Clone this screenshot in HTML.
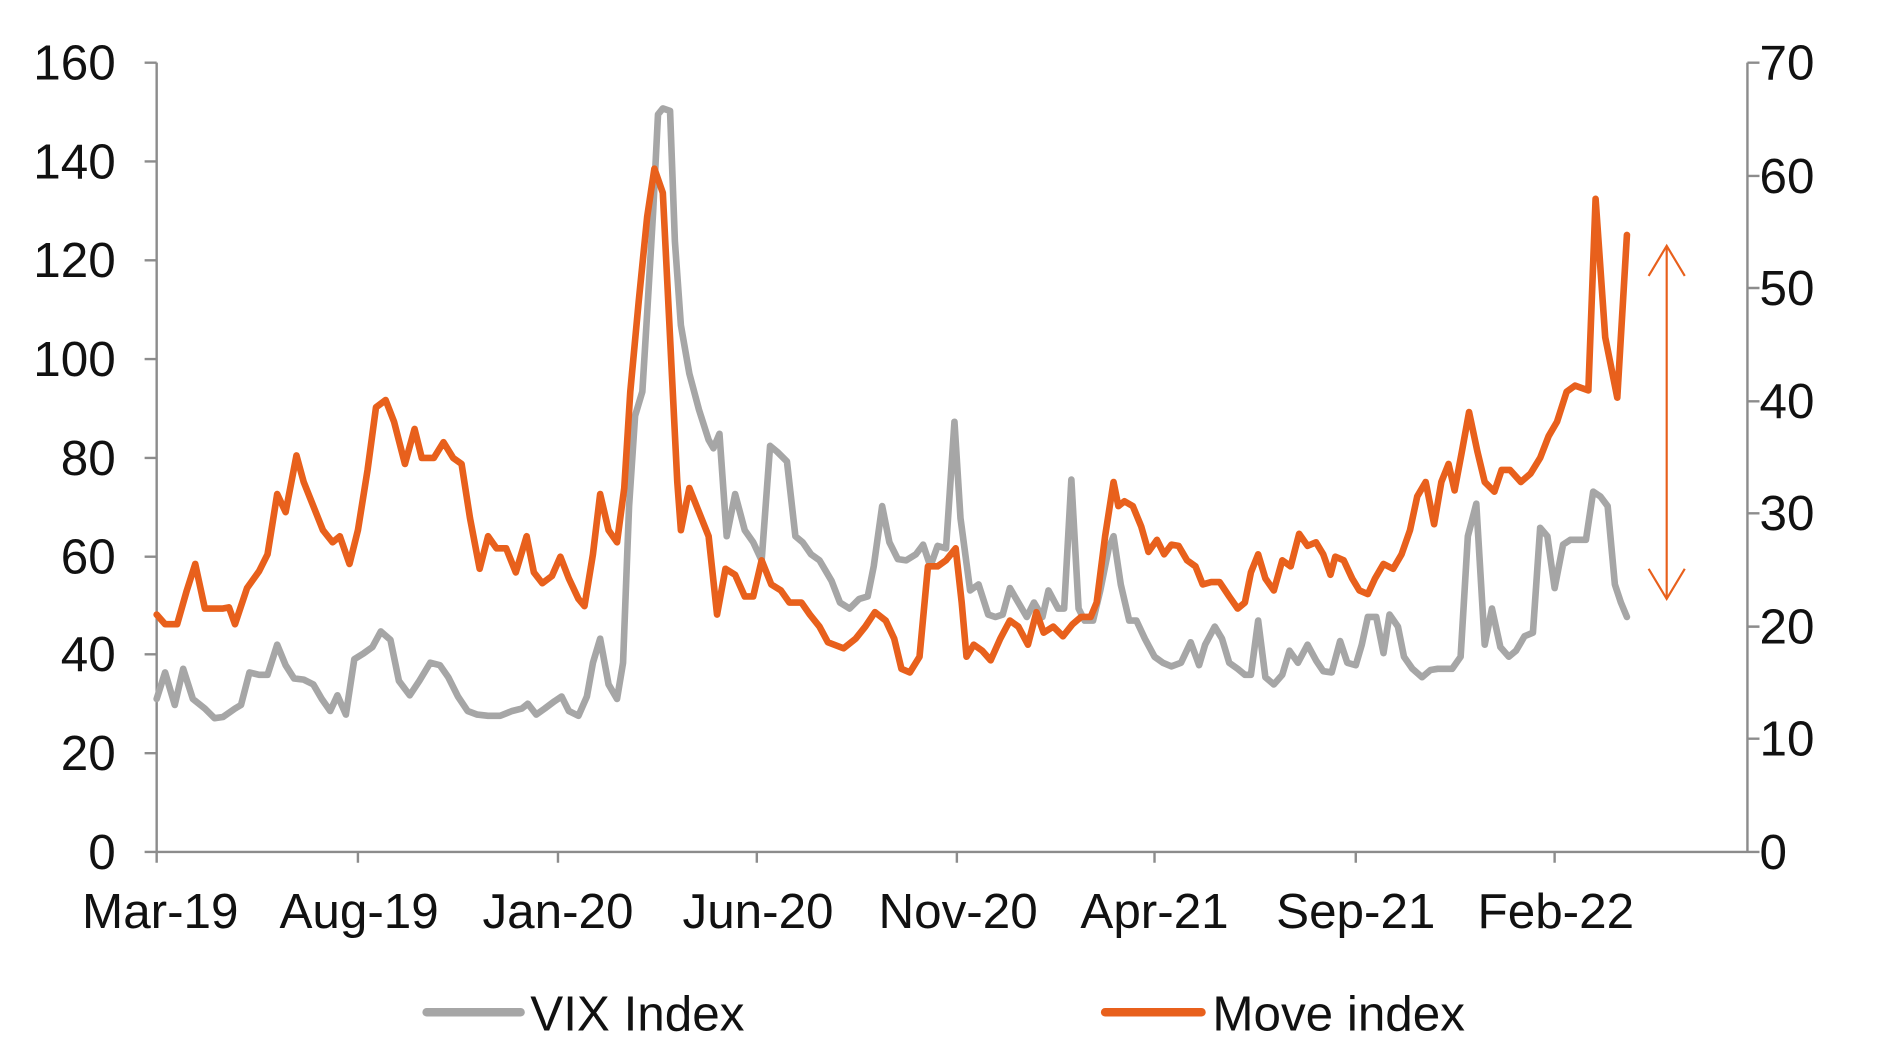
<!DOCTYPE html>
<html><head><meta charset="utf-8"><style>
html,body{margin:0;padding:0;background:#fff;}
svg{display:block;}
text{font-family:"Liberation Sans",Arial,sans-serif;fill:#111;}
</style></head><body>
<svg width="1880" height="1052" viewBox="0 0 1560 873" preserveAspectRatio="none" xmlns="http://www.w3.org/2000/svg">
<g stroke="#8c8c8c" stroke-width="2" fill="none">
<line x1="130" y1="52" x2="130" y2="716"/>
<line x1="120" y1="707" x2="1460" y2="707"/>
<line x1="1450" y1="52" x2="1450" y2="707"/>
<path d="M120 52H130M120 134H130M120 216H130M120 298H130M120 380H130M120 462H130M120 543H130M120 625H130"/>
<path d="M1450 52H1460M1450 146H1460M1450 239H1460M1450 333H1460M1450 426H1460M1450 520H1460M1450 613H1460"/>
<path d="M297 707V716M463 707V716M628 707V716M794 707V716M958 707V716M1125 707V716M1290 707V716"/>
</g>
<g font-size="41" text-anchor="end">
<text x="96" y="66">160</text><text x="96" y="148">140</text><text x="96" y="230">120</text><text x="96" y="312">100</text><text x="96" y="394">80</text><text x="96" y="476">60</text><text x="96" y="557">40</text><text x="96" y="639">20</text><text x="96" y="721">0</text>
</g>
<g font-size="41">
<text x="1460" y="66">70</text><text x="1460" y="160">60</text><text x="1460" y="253">50</text><text x="1460" y="347">40</text><text x="1460" y="440">30</text><text x="1460" y="534">20</text><text x="1460" y="627">10</text><text x="1460" y="721">0</text>
</g>
<g font-size="41" text-anchor="middle">
<text x="133" y="770">Mar-19</text><text x="298" y="770">Aug-19</text><text x="463" y="770">Jan-20</text><text x="629" y="770">Jun-20</text><text x="795" y="770">Nov-20</text><text x="958" y="770">Apr-21</text><text x="1125" y="770">Sep-21</text><text x="1291" y="770">Feb-22</text>
</g>
<polyline fill="none" stroke="#a6a6a6" stroke-width="5.5" stroke-linejoin="round" stroke-linecap="round" points="130,580 137,558 145,585 152,555 160,580 170,588 178,596 185,595 195,588 200,585 207,558 215,560 222,560 230,535 237,552 244,563 252,564 260,568 267,580 274,590 280,577 287,593 294,547 302,542 309,537 316,524 324,531 331,565 340,577 348,565 357,550 365,552 372,562 380,578 388,590 396,593 405,594 415,594 425,590 433,588 438,584 445,593 452,588 460,582 466,578 472,590 480,594 487,578 492,550 498,530 505,568 512,580 517,550 522,420 527,345 533,325 537,260 542,175 546,95 550,90 556,92 560,200 565,270 572,310 580,340 588,365 592,372 597,360 603,445 610,410 618,440 625,450 632,465 639,370 645,375 653,383 660,445 666,450 673,460 680,465 690,482 697,500 705,505 713,497 720,495 725,470 732,420 738,450 745,464 752,465 760,460 766,452 772,470 778,453 785,455 792,350 797,430 805,490 812,485 820,510 826,512 832,510 838,488 845,500 852,512 858,500 865,512 870,490 878,505 883,505 889,398 895,505 900,515 907,515 913,490 920,455 924,445 930,485 937,515 943,515 950,530 958,545 965,550 972,553 980,550 988,533 995,552 1000,535 1008,520 1014,530 1020,550 1027,555 1033,560 1038,560 1044,515 1050,562 1057,568 1064,560 1070,540 1077,550 1085,535 1092,548 1098,557 1105,558 1112,532 1118,550 1125,552 1130,535 1135,512 1142,512 1148,542 1153,510 1160,520 1165,545 1172,555 1180,562 1187,556 1193,555 1200,555 1205,555 1212,545 1218,445 1225,418 1232,535 1238,505 1245,537 1252,545 1258,540 1265,528 1272,525 1278,438 1284,445 1290,488 1297,452 1303,448 1310,448 1316,448 1322,408 1328,412 1334,420 1340,485 1345,500 1350,512"/>
<polyline fill="none" stroke="#e8601c" stroke-width="5.5" stroke-linejoin="round" stroke-linecap="round" points="130,510 137,518 147,518 155,490 162,468 170,505 185,505 190,504 195,518 205,488 215,474 222,460 230,410 237,425 246,378 252,400 260,420 268,440 276,450 282,445 290,468 297,440 305,390 312,338 320,332 327,350 336,385 344,356 350,380 360,380 368,367 376,380 383,385 390,430 398,472 405,445 412,455 420,455 428,475 437,445 443,475 450,484 458,478 465,462 472,480 480,497 485,503 492,460 498,410 505,440 512,450 518,405 523,325 530,250 537,180 543,140 550,160 555,260 562,400 565,440 572,405 580,425 588,445 595,510 602,472 610,477 618,495 625,495 632,465 640,485 648,490 655,500 665,500 672,510 680,520 687,533 700,538 710,530 718,520 726,508 735,515 742,530 748,555 755,558 763,545 770,470 778,470 785,465 793,455 798,500 802,545 808,535 815,540 822,548 830,530 838,515 845,520 853,535 860,508 866,525 874,520 882,528 890,518 897,512 905,512 910,500 917,445 924,400 928,420 933,416 940,420 947,437 953,458 960,448 966,460 972,452 978,453 985,465 992,470 998,485 1005,483 1012,483 1020,495 1027,505 1033,500 1038,475 1044,460 1050,480 1057,490 1064,465 1071,470 1078,443 1085,453 1092,450 1098,460 1104,477 1108,462 1115,465 1122,480 1128,490 1135,493 1141,480 1148,468 1156,472 1163,460 1170,440 1176,412 1183,400 1190,435 1196,400 1202,385 1207,407 1213,375 1219,342 1226,375 1232,400 1240,408 1246,390 1253,390 1262,400 1270,393 1278,380 1285,362 1292,350 1300,325 1307,320 1318,324 1324,165 1332,280 1342,330 1350,195"/>
<g stroke="#e8601c" stroke-width="1.8" fill="none">
<line x1="1383" y1="204" x2="1383" y2="497"/>
<polyline points="1368,229 1383,204 1398,229"/>
<polyline points="1368,472 1383,497 1398,472"/>
</g>
<line x1="354" y1="840" x2="432" y2="840" stroke="#a6a6a6" stroke-width="7" stroke-linecap="round"/>
<text x="440" y="855" font-size="41">VIX Index</text>
<line x1="917" y1="840" x2="997" y2="840" stroke="#e8601c" stroke-width="7" stroke-linecap="round"/>
<text x="1006" y="855" font-size="41">Move index</text>
</svg>
</body></html>
